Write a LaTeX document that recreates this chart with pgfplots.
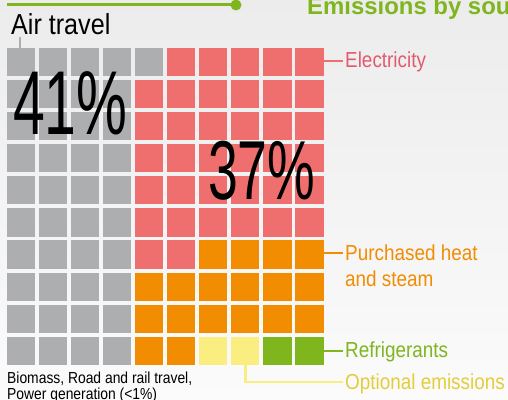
\documentclass[border=0pt]{standalone}
\usepackage{pgfplots}
\pgfplotsset{compat=1.18}
\usepackage{graphicx}
\usepackage{fontspec}
\setmainfont{Liberation Sans}
\newfontfamily\lab[FakeStretch=0.87]{Liberation Sans}
\definecolor{cgray}{HTML}{ADAEB0}
\definecolor{cred}{HTML}{EE6F6E}
\definecolor{corange}{HTML}{F28C00}
\definecolor{cyellow}{HTML}{FAEE80}
\definecolor{cgreen}{HTML}{7FB51D}
\definecolor{tred}{HTML}{E25A6E}
\definecolor{tyellow}{HTML}{E4CD3A}
\definecolor{bgtop}{HTML}{ECECEC}
\definecolor{bgbot}{HTML}{FBFBFB}
\begin{document}
\begin{tikzpicture}
\useasboundingbox (0,0) rectangle (508bp,400bp);
\clip (0,0) rectangle (508bp,400bp);
\shade[top color=bgtop, bottom color=bgbot] (0,0) rectangle (508bp,400bp);
\begin{axis}[
  at={(0,0)}, anchor=south west,
  scale only axis, width=508bp, height=400bp,
  hide axis, clip=false,
  y dir=reverse,
  xmin=0.3567, xmax=16.182,
  ymin=-0.930, ymax=11.531,
  every axis plot/.append style={only marks, mark=square*, mark size=13.6bp},
]
% gray: Air travel (41)
\addplot[cgray, mark options={fill=cgray, draw=cgray, line width=0pt}] coordinates {
(1,1)(2,1)(3,1)(4,1)(5,1)
(1,2)(2,2)(3,2)(4,2)
(1,3)(2,3)(3,3)(4,3)
(1,4)(2,4)(3,4)(4,4)
(1,5)(2,5)(3,5)(4,5)
(1,6)(2,6)(3,6)(4,6)
(1,7)(2,7)(3,7)(4,7)
(1,8)(2,8)(3,8)(4,8)
(1,9)(2,9)(3,9)(4,9)
(1,10)(2,10)(3,10)(4,10)
};
% red: Electricity (37)
\addplot[cred, mark options={fill=cred, draw=cred, line width=0pt}] coordinates {
(6,1)(7,1)(8,1)(9,1)(10,1)
(5,2)(6,2)(7,2)(8,2)(9,2)(10,2)
(5,3)(6,3)(7,3)(8,3)(9,3)(10,3)
(5,4)(6,4)(7,4)(8,4)(9,4)(10,4)
(5,5)(6,5)(7,5)(8,5)(9,5)(10,5)
(5,6)(6,6)(7,6)(8,6)(9,6)(10,6)
(5,7)(6,7)
};
% orange: Purchased heat and steam (18)
\addplot[corange, mark options={fill=corange, draw=corange, line width=0pt}] coordinates {
(7,7)(8,7)(9,7)(10,7)
(5,8)(6,8)(7,8)(8,8)(9,8)(10,8)
(5,9)(6,9)(7,9)(8,9)(9,9)(10,9)
(5,10)(6,10)
};
% yellow: Optional emissions (2)
\addplot[cyellow, mark options={fill=cyellow, draw=cyellow, line width=0pt}] coordinates {
(7,10)(8,10)
};
% green: Refrigerants (2)
\addplot[cgreen, mark options={fill=cgreen, draw=cgreen, line width=0pt}] coordinates {
(9,10)(10,10)
};
\end{axis}
\begin{scope}[shift={(0,400bp)}, x=1bp, y=-1bp]
  % top decoration
  \draw[cgreen, line width=2.5bp] (7,4.5) -- (236,4.5);
  \fill[cgreen] (236,5) circle (5.5bp);
  \node[anchor=base west, inner sep=0, text=cgreen] at (307,15)
    {\bfseries\fontsize{24}{28}\selectfont Emissions by source};
  % Air travel
  \draw[cgray, line width=1.2bp] (20,37) -- (20,48);
  \node[anchor=base west, inner sep=0] at (11,35)
    {\lab\fontsize{29}{32}\selectfont Air travel};
  % big numbers
  \node[anchor=base west, inner sep=0] at (13,135)
    {\scalebox{0.63}[1]{\fontsize{91}{95}\selectfont 41\%}};
  \node[anchor=base west, inner sep=0] at (208,200)
    {\scalebox{0.64}[1]{\fontsize{84}{88}\selectfont 37\%}};
  % connectors
  \draw[cred, line width=2bp] (323,61) -- (343,61);
  \draw[corange, line width=2bp] (323,253) -- (343,253);
  \draw[cgreen, line width=2bp] (323,351) -- (343,351);
  \draw[cyellow, line width=2.2bp] (245.5,364) -- (245.5,382) -- (343,382);
  % labels
  \node[anchor=base west, inner sep=0, text=tred] at (345,68)
    {\lab\fontsize{21.8}{26}\selectfont Electricity};
  \node[anchor=base west, inner sep=0, text=corange] at (345,261)
    {\lab\fontsize{21.8}{26}\selectfont Purchased heat};
  \node[anchor=base west, inner sep=0, text=corange] at (345,287)
    {\lab\fontsize{21.8}{26}\selectfont and steam};
  \node[anchor=base west, inner sep=0, text=cgreen] at (345,358)
    {\lab\fontsize{21.8}{26}\selectfont Refrigerants};
  \node[anchor=base west, inner sep=0, text=tyellow] at (345,390)
    {\lab\fontsize{21.8}{26}\selectfont Optional emissions};
  \node[anchor=base west, inner sep=0] at (7,384)
    {\lab\fontsize{16}{16.5}\selectfont Biomass, Road and rail travel,};
  \node[anchor=base west, inner sep=0] at (7,400)
    {\lab\fontsize{16}{16.5}\selectfont Power generation (<1\%)};
\end{scope}
\end{tikzpicture}
\end{document}
